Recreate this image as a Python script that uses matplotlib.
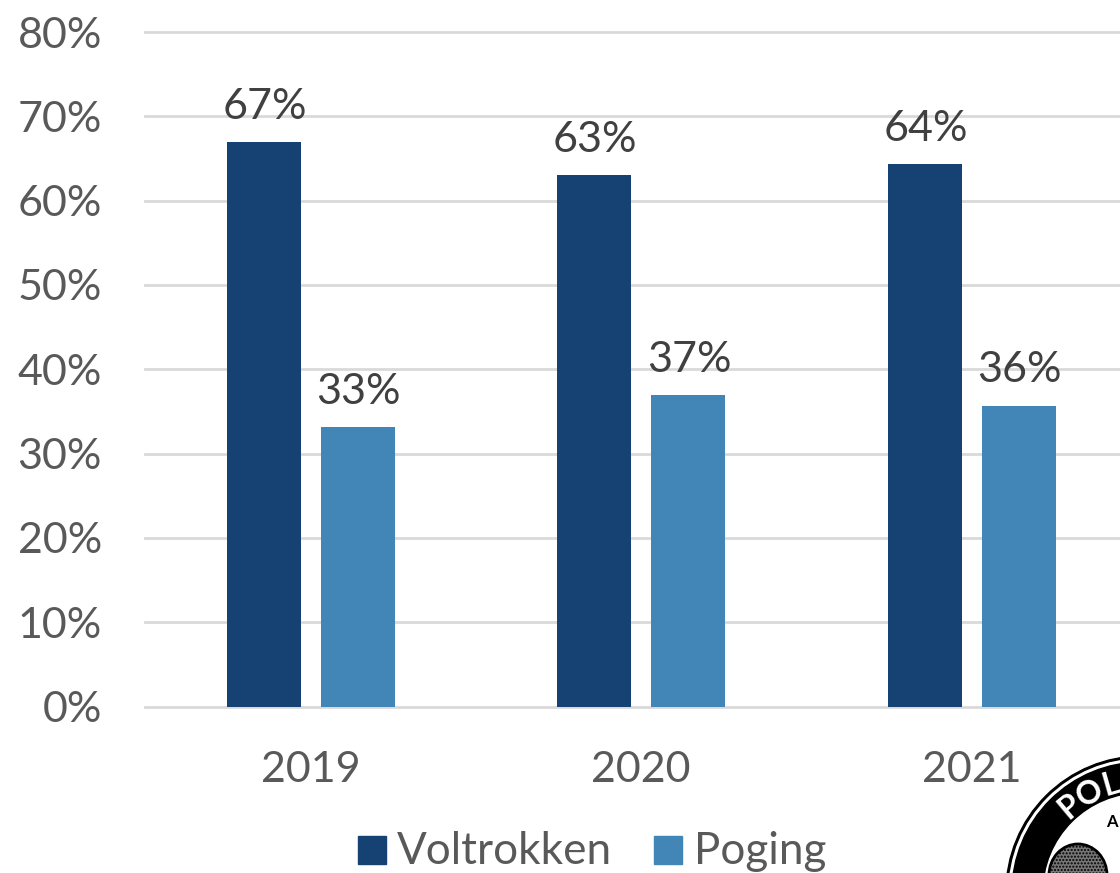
import matplotlib.pyplot as plt
import matplotlib.patches as mpatches
import numpy as np

W, H = 1120, 873

years = ['2019', '2020', '2021']
voltrokken = [66.9, 63.0, 64.3]
poging = [33.1, 37.0, 35.7]
labels_v = ['67%', '63%', '64%']
labels_p = ['33%', '37%', '36%']
yticks = [0, 10, 20, 30, 40, 50, 60, 70, 80]

plt.rcParams['font.family'] = ['Lato', 'DejaVu Sans']

fig = plt.figure(figsize=(W/100, H/100), dpi=100)

# axes in pixel terms: y=0 at 706.5px, y=80 at 32px
ax = fig.add_axes([145/W, 1-706.5/H, (W-145)/W, (706.5-32)/H])
ax.set_xlim(145, 1120)
ax.set_ylim(0, 80)

centers = np.array([310.5, 641, 971.5])
bw = 74
off = 47

ax.set_axisbelow(True)
ax.yaxis.grid(True, color='#d9d9d9', lw=2, clip_on=False)
ax.bar(centers-off, voltrokken, bw, color='#154273')
ax.bar(centers+off, poging, bw, color='#4286b7')

for i in range(3):
    ax.text(centers[i]-off+1, voltrokken[i]+1.9, labels_v[i], ha='center', va='bottom', fontsize=31, color='#404040')
    ax.text(centers[i]+off+1, poging[i]+1.9, labels_p[i], ha='center', va='bottom', fontsize=31, color='#404040')

for s in ['top', 'right', 'left', 'bottom']:
    ax.spines[s].set_visible(False)

ax.set_yticks(yticks)
ax.set_yticklabels([str(t)+'%' for t in yticks], fontsize=31, color='#595959')
ax.set_xticks(centers)
ax.set_xticklabels(years, fontsize=31, color='#595959')
ax.tick_params(axis='both', length=0)
ax.tick_params(axis='x', pad=32)
ax.tick_params(axis='y', pad=31)

# legend
fig.patches.append(mpatches.Rectangle((358/W, 1-864/H), 28/W, 28/H, transform=fig.transFigure, color='#154273'))
fig.patches.append(mpatches.Rectangle((654/W, 1-864/H), 28/W, 28/H, transform=fig.transFigure, color='#4286b7'))
fig.text(397/W, 1-852/H, 'Voltrokken', fontsize=31.7, color='#595959', va='center')
fig.text(694/W, 1-852/H, 'Poging', fontsize=31.7, color='#595959', va='center')

# corner logo
logo = fig.add_axes([0, 0, 1, 1], facecolor='none')
logo.set_xlim(0, W)
logo.set_ylim(H, 0)
logo.axis('off')
cx, cy = 1142, 892
logo.add_patch(mpatches.Circle((cx, cy), 136, color='black'))
logo.add_patch(mpatches.Circle((cx, cy), 133, color='white'))
logo.add_patch(mpatches.Circle((cx, cy), 130, color='black'))
logo.add_patch(mpatches.Circle((cx, cy), 98, color='white'))
for ch, ang in zip('POL', [50, 62, 74]):
    a = np.radians(ang)
    logo.text(cx-112*np.cos(a), cy-112*np.sin(a), ch, rotation=90-ang, rotation_mode='anchor',
              fontsize=23, fontweight='bold', color='white', ha='center', va='center')
logo.text(1112, 822, 'A', fontsize=12, fontweight='bold', color='black', ha='center', va='center')
logo.add_patch(mpatches.Ellipse((1078, 875), 58, 62, facecolor='#777777', edgecolor='black', lw=2, hatch='.....'))

fig.savefig('out.png', dpi=100)
